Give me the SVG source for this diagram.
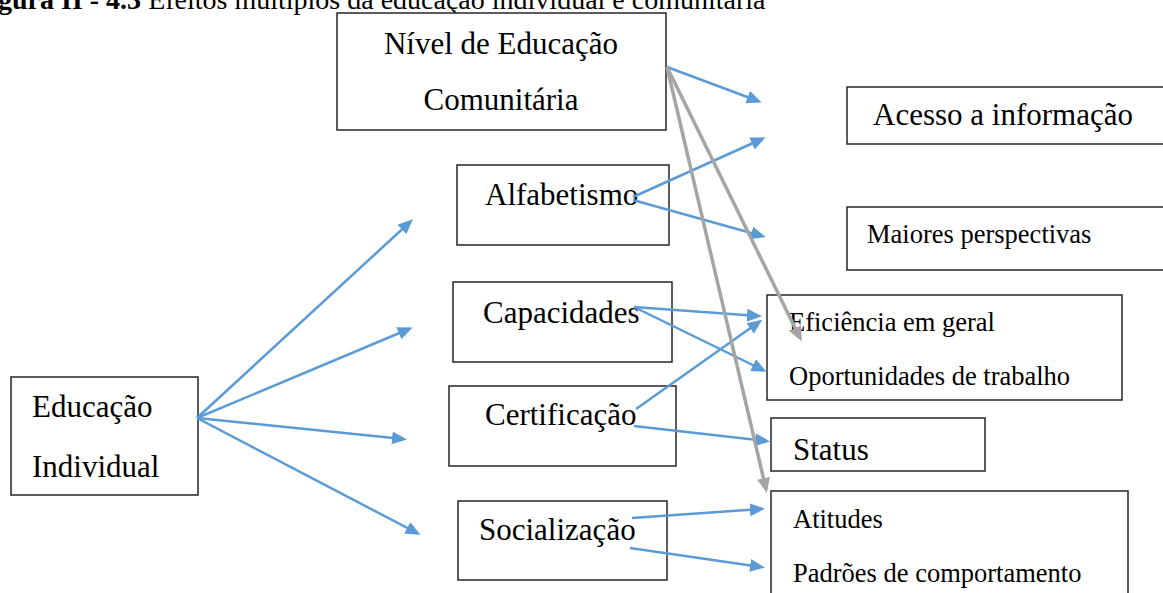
<svg xmlns="http://www.w3.org/2000/svg" width="1163" height="593" viewBox="0 0 1163 593">
<style>
.box{fill:#fff;stroke:#262626;stroke-width:1.5}
.t{font-family:"Liberation Serif","Times New Roman",serif;fill:#000}
.big{font-size:31px}
.sm{font-size:26.5px}
.blue{stroke:#5B9BD5;stroke-width:2.5;fill:none;marker-end:url(#ab)}
.gray{stroke:#A5A5A5;stroke-width:3.5;fill:none;marker-end:url(#ag)}
</style>
<defs>
<marker id="ab" markerUnits="userSpaceOnUse" markerWidth="16" markerHeight="14" refX="11" refY="6.5" orient="auto"><path d="M0,0 L15,6.5 L0,13 z" fill="#5B9BD5"/></marker>
<marker id="ag" markerUnits="userSpaceOnUse" markerWidth="16" markerHeight="14" refX="11" refY="6.5" orient="auto"><path d="M0,0 L15,6.5 L0,13 z" fill="#A5A5A5"/></marker>
</defs>
<text class="t" x="-2" y="9" font-size="28px"><tspan font-weight="bold">gura II - 4.3</tspan> Efeitos múltiplos da educação individual e comunitária</text>

<g id="n-nivel"><rect class="box" x="337" y="13" width="329" height="117"/><text class="t big" x="501" y="54" text-anchor="middle">Nível de Educação</text><text class="t big" x="501" y="110" text-anchor="middle">Comunitária</text></g>
<g id="n-educ"><rect class="box" x="11" y="377" width="187" height="118"/><text class="t big" x="32" y="417">Educação</text><text class="t big" x="32" y="477">Individual</text></g>
<g id="n-alfa"><rect class="box" x="457" y="165" width="212" height="80"/><text class="t big" x="485" y="205">Alfabetismo</text></g>
<g id="n-capa"><rect class="box" x="453" y="282" width="219" height="80"/><text class="t big" x="483" y="323">Capacidades</text></g>
<g id="n-cert"><rect class="box" x="449" y="386" width="227" height="80"/><text class="t big" x="485" y="425">Certificação</text></g>
<g id="n-soci"><rect class="box" x="458" y="501" width="209" height="79"/><text class="t big" x="479" y="540">Socialização</text></g>
<g id="n-acesso"><rect class="box" x="847" y="87" width="320" height="57"/><text class="t big" x="873" y="125">Acesso a informação</text></g>
<g id="n-maiores"><rect class="box" x="847" y="207" width="320" height="63"/><text class="t sm" x="867" y="243">Maiores perspectivas</text></g>
<g id="n-efic"><rect class="box" x="767" y="295" width="355" height="105"/><text class="t sm" x="789" y="331">Eficiência em geral</text><text class="t sm" x="789" y="385">Oportunidades de trabalho</text></g>
<g id="n-status"><rect class="box" x="771" y="418" width="214" height="53"/><text class="t big" x="793" y="460">Status</text></g>
<g id="n-atit"><rect class="box" x="771" y="491" width="357" height="110"/><text class="t sm" x="793" y="528">Atitudes</text><text class="t sm" x="793" y="582">Padrões de comportamento</text></g>

<g id="connectors">
<line class="blue" x1="197" y1="418" x2="410" y2="222"/>
<line class="blue" x1="197" y1="418" x2="409" y2="329"/>
<line class="blue" x1="197" y1="418" x2="403" y2="439"/>
<line class="blue" x1="197" y1="418" x2="417" y2="533"/>
<line class="blue" x1="667" y1="67" x2="758" y2="101"/>
<line class="blue" x1="633" y1="197" x2="762" y2="139"/>
<line class="blue" x1="633" y1="200" x2="762" y2="236"/>
<line class="blue" x1="634" y1="307" x2="758" y2="316"/>
<line class="blue" x1="634" y1="307" x2="763" y2="370"/>
<line class="blue" x1="636" y1="409" x2="759" y2="322"/>
<line class="blue" x1="634" y1="426" x2="766" y2="441"/>
<line class="blue" x1="632" y1="518" x2="761" y2="509"/>
<line class="blue" x1="630" y1="548" x2="761" y2="567"/>
<line class="gray" x1="667" y1="67" x2="800" y2="338"/>
<line class="gray" x1="667" y1="67" x2="766" y2="489"/>
</g>
</svg>
